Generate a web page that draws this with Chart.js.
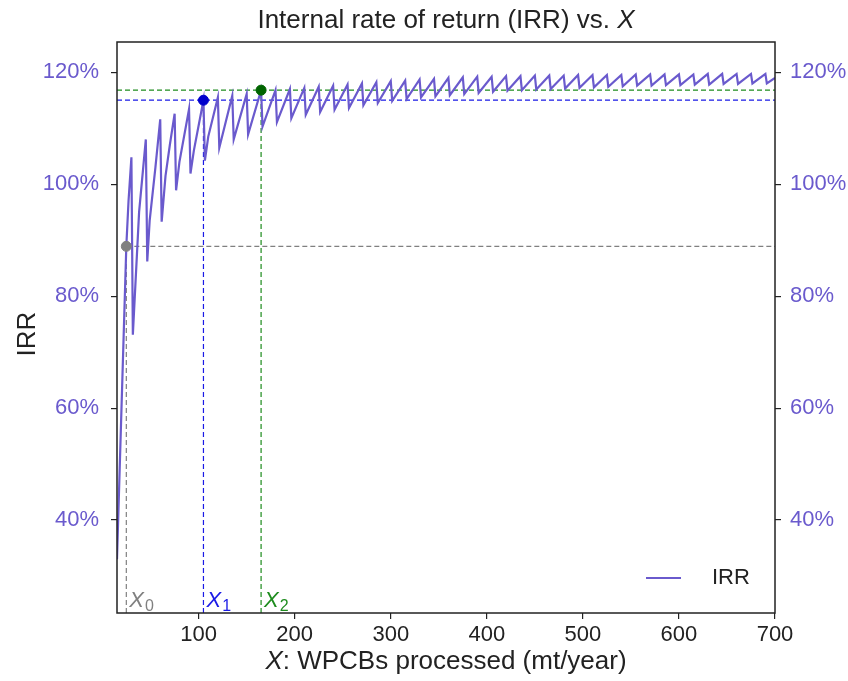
<!DOCTYPE html>
<html>
<head>
<meta charset="utf-8">
<script src="https://cdn.jsdelivr.net/npm/chart.js@4.4.1/dist/chart.umd.min.js"></script>
<style>
  html, body { margin: 0; padding: 0; background: #fff; }
</style>
</head>
<body>
<canvas id="irrChart" width="848" height="681"></canvas>
<script>
// IRR curve (X in mt/year, IRR in %)
const irrX = [
  15, 24.7, 27, 30,
  31.5, 38, 45,
  46.5, 49, 55, 60,
  61.5, 65.5, 70, 75,
  76.5, 80, 90,
  91.5, 95, 105,
  106.5, 110, 120,
  121.5, 135, 136.5, 150, 151.5, 165, 166.5, 180,
  181.5, 195, 196.5, 210, 211.5, 225, 226.5, 240,
  241.5, 255, 256.5, 270, 271.5, 285, 286.5, 300,
  301.5, 315, 316.5, 330, 331.5, 345, 346.5, 360,
  361.5, 375, 376.5, 390, 391.5, 405, 406.5, 420,
  421.5, 435, 436.5, 450, 451.5, 465, 466.5, 480,
  481.5, 495, 496.5, 510, 511.5, 525, 526.5, 540,
  541.5, 555, 556.5, 570, 571.5, 585, 586.5, 600,
  601.5, 615, 616.5, 630, 631.5, 645, 646.5, 660,
  661.5, 675, 676.5, 690, 691.5, 700
];
const irrY = [
  33.0, 88.9, 97.0, 104.8,
  73.1, 95.0, 108.0,
  86.2, 93.5, 103.0, 111.6,
  93.3, 101.5, 107.0, 112.6,
  98.9, 104.0, 113.4,
  101.9, 106.0, 115.0,
  104.2, 108.5, 115.5,
  106.5, 115.8, 108.0, 116.1, 108.9, 116.8, 110.3, 116.8,
  111.1, 117.0, 111.8, 117.2, 112.4, 117.4, 112.9, 117.6,
  113.3, 117.8, 113.6, 118.0, 114.1, 118.2, 114.5, 118.4,
  114.9, 118.5, 115.2, 118.7, 115.5, 118.8, 115.7, 119.0,
  115.9, 119.1, 116.1, 119.2, 116.3, 119.2, 116.5, 119.3,
  116.7, 119.3, 116.8, 119.4, 116.9, 119.4, 117.0, 119.4,
  117.1, 119.5, 117.2, 119.5, 117.3, 119.5, 117.4, 119.5,
  117.5, 119.6, 117.6, 119.6, 117.6, 119.6, 117.7, 119.6,
  117.7, 119.6, 117.8, 119.7, 117.8, 119.7, 117.9, 119.7,
  117.9, 119.7, 118.0, 119.7, 118.0, 119.0
];

// marked points X0, X1, X2
const markX = [24.7, 105, 165];
const markY = [88.9, 115.0, 116.8];
const markSub = ['0', '1', '2'];
const markLine = ['#808080', '#1a1ae6', '#1e8c1e'];
const markDot = ['#808080', '#0000cc', '#006400'];

const xTicks = [100, 200, 300, 400, 500, 600, 700];
const yTicks = [40, 60, 80, 100, 120];
const xMin = 15, xMax = 700;
const yMin = 23.4, yMax = 125.4;

const FONT = "'Liberation Sans', Arial, sans-serif";
const IRR_COLOR = '#6a5acd';

const datasets = [{
    label: 'IRR',
    data: irrX.map((x, i) => ({ x: x, y: irrY[i] })),
    borderColor: IRR_COLOR,
    borderWidth: 2.2,
    pointRadius: 0,
    showLine: true,
    order: 1
}];

markX.forEach((mx, i) => {
    const hStart = i === 0 ? mx : xMin;
    datasets.push({
        data: [{ x: hStart, y: markY[i] }, { x: xMax, y: markY[i] }],
        borderColor: markLine[i], borderWidth: 1.2, borderDash: [5, 3],
        pointRadius: 0, showLine: true, order: 2
    });
    datasets.push({
        data: [{ x: mx, y: yMin }, { x: mx, y: markY[i] }],
        borderColor: markLine[i], borderWidth: 1.2, borderDash: [5, 3],
        pointRadius: 0, showLine: true, order: 2
    });
    datasets.push({
        data: [{ x: mx, y: markY[i] }],
        backgroundColor: markDot[i], borderColor: markDot[i],
        pointRadius: 5, showLine: false, order: 0
    });
});

function drawParts(ctx, parts, cx, cy, size, color) {
    let total = 0;
    parts.forEach(p => {
        ctx.font = p[1] + size + 'px ' + FONT;
        total += ctx.measureText(p[0]).width;
    });
    let x = cx - total / 2;
    ctx.fillStyle = color;
    ctx.textBaseline = 'middle';
    ctx.textAlign = 'left';
    parts.forEach(p => {
        ctx.font = p[1] + size + 'px ' + FONT;
        ctx.fillText(p[0], x, cy);
        x += ctx.measureText(p[0]).width;
    });
}

const decor = {
    id: 'decor',
    afterDraw(chart) {
        const ctx = chart.ctx;
        const a = chart.chartArea;
        const sx = chart.scales.x;
        ctx.save();

        ctx.strokeStyle = '#222';
        ctx.lineWidth = 1.5;
        ctx.strokeRect(a.left, a.top, a.right - a.left, a.bottom - a.top);

        const cx = (a.left + a.right) / 2;
        drawParts(ctx, [['Internal rate of return (IRR) vs. ', ''], ['X', 'italic ']], cx, 21, 26, '#222');
        drawParts(ctx, [['X', 'italic '], [': WPCBs processed (mt/year)', '']], cx, 662, 26, '#222');

        // y axis title
        ctx.save();
        ctx.translate(28, 334);
        ctx.rotate(-Math.PI / 2);
        drawParts(ctx, [['IRR', '']], 0, 0, 26, '#222');
        ctx.restore();

        // X0 / X1 / X2 labels
        markX.forEach((mx, i) => {
            const px = sx.getPixelForValue(mx) + 3;
            ctx.textBaseline = 'alphabetic';
            ctx.textAlign = 'left';
            ctx.fillStyle = markLine[i];
            ctx.font = 'italic 22px ' + FONT;
            ctx.fillText('X', px, a.bottom - 6);
            const w = ctx.measureText('X').width;
            ctx.font = '16px ' + FONT;
            ctx.fillText(markSub[i], px + w + 1, a.bottom - 2);
        });

        // legend
        const ly = a.bottom - 35;
        ctx.strokeStyle = IRR_COLOR;
        ctx.lineWidth = 2.2;
        ctx.beginPath();
        ctx.moveTo(a.right - 129, ly);
        ctx.lineTo(a.right - 94, ly);
        ctx.stroke();
        ctx.fillStyle = '#222';
        ctx.font = '22px ' + FONT;
        ctx.textBaseline = 'middle';
        ctx.fillText('IRR', a.right - 63, ly);

        ctx.restore();
    }
};

const tickGrid = { drawOnChartArea: false, drawTicks: true, tickLength: 6, color: '#222', lineWidth: 1.2 };

new Chart(document.getElementById('irrChart'), {
    type: 'scatter',
    data: { datasets: datasets },
    options: {
        responsive: false,
        animation: false,
        devicePixelRatio: 1,
        layout: { padding: { top: 42, left: 0, right: 0, bottom: 0 } },
        plugins: {
            legend: { display: false },
            title: { display: false },
            tooltip: { enabled: false }
        },
        scales: {
            x: {
                type: 'linear', min: xMin, max: xMax,
                afterBuildTicks: s => { s.ticks = xTicks.map(v => ({ value: v })); },
                afterFit: s => { s.height = 68; },
                grid: tickGrid,
                border: { display: false },
                ticks: { color: '#222', font: { family: FONT, size: 22 }, padding: 3, maxRotation: 0, autoSkip: false }
            },
            y: {
                type: 'linear', position: 'left', min: yMin, max: yMax,
                afterBuildTicks: s => { s.ticks = yTicks.map(v => ({ value: v })); },
                afterFit: s => { s.width = 117; },
                grid: tickGrid,
                border: { display: false },
                ticks: { color: IRR_COLOR, font: { family: FONT, size: 22 }, padding: 12, callback: v => v + '%' }
            },
            y2: {
                type: 'linear', position: 'right', min: yMin, max: yMax,
                afterBuildTicks: s => { s.ticks = yTicks.map(v => ({ value: v })); },
                afterFit: s => { s.width = 73; },
                grid: tickGrid,
                border: { display: false },
                ticks: { color: IRR_COLOR, font: { family: FONT, size: 22 }, padding: 9, callback: v => v + '%' }
            }
        }
    },
    plugins: [decor]
});
</script>
</body>
</html>
